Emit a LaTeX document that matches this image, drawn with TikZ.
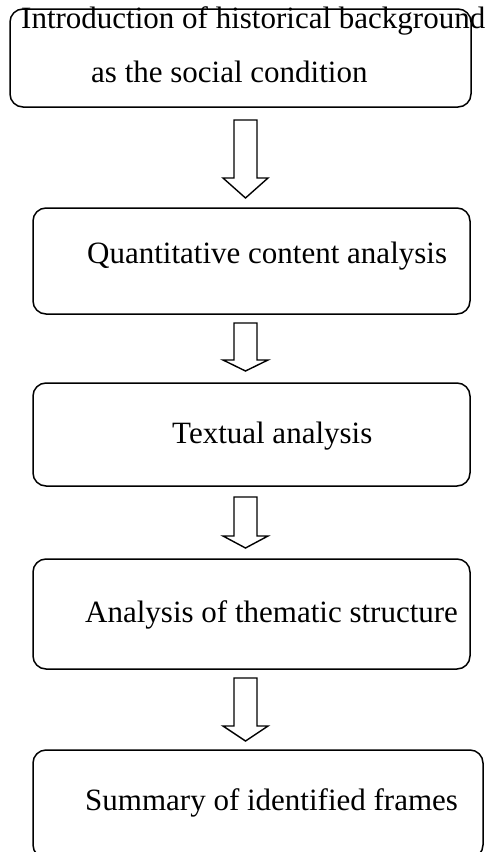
\documentclass[tikz,border=0pt]{standalone}
\usepackage{fontspec}
\setmainfont{Liberation Serif}
\begin{document}
\begin{tikzpicture}[x=1bp,y=-1bp,
  box/.style={draw=black, line width=1.5bp, rounded corners=13bp, inner sep=0pt},
  lbl/.style={anchor=base west, inner sep=0pt, font=\fontsize{31bp}{37bp}\selectfont},
  barrow/.style={draw=black, line width=1.4bp, fill=white, line join=miter}]
\useasboundingbox (0,0) rectangle (488,852);
\newcommand{\blockarr}[4]{%
  \draw[barrow] (234,#1) -- (257,#1) -- (257,#2) -- (268,#2) -- (245.5,#3) -- (223,#2) -- (234,#2) -- cycle;}
% boxes
\draw[box] (10,9) rectangle (471,107);
\draw[box] (33,208) rectangle (470,314);
\draw[box] (33,383) rectangle (470,486);
\draw[box] (33,559) rectangle (470,669);
\draw[box] (33,750) rectangle (483,858);
% labels
\node[lbl] (t1a) at (21,28) {Introduction of historical background};
\node[lbl] (t1b) at (91,82) {as the social condition};
\node[lbl] (t2) at (87,263) {Quantitative content analysis};
\node[lbl] (t3) at (172,443) {Textual analysis};
\node[lbl] (t4) at (85,622) {Analysis of thematic structure};
\node[lbl] (t5) at (85,810) {Summary of identified frames};
% block arrows
\blockarr{120}{178}{198}{}
\blockarr{323}{360}{371}{}
\blockarr{497}{536}{548}{}
\blockarr{678}{726}{741}{}
\end{tikzpicture}
\end{document}
